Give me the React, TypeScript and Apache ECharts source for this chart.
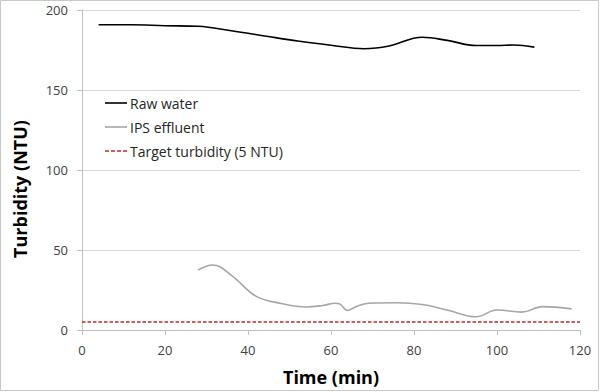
import React, { useEffect, useRef } from "react";
import * as echarts from "echarts";

const rawWaterTime = [4, 12, 20, 28, 36, 44, 52, 60, 68, 74, 82, 88, 95, 100, 104, 109];
const rawWaterValues = [190.8, 190.8, 190.2, 189.8, 187, 183.8, 180.6, 178, 175.8, 177.5, 183, 181, 177.8, 177.8, 178.1, 176.8];

const ipsTime = [28, 31.5, 36, 42, 48, 54, 58, 61, 62, 64, 66, 69, 76, 82, 88, 95, 100, 106, 111, 118];
const ipsValues = [37.5, 40.6, 34.2, 21, 16.6, 14.4, 15.3, 16.7, 16.4, 12.2, 14.6, 16.7, 17, 15.9, 12.5, 8.3, 12.5, 11.2, 14.6, 13.2];

const targetTime = [0, 120];
const targetValues = [5, 5];

const xTicks = { min: 0, max: 120, interval: 20 };
const yTicks = { min: 0, max: 200, interval: 50 };

const seriesNames = ["Raw water", "IPS effluent", "Target turbidity (5 NTU)"];
const xTitle = "Time (min)";
const yTitle = "Turbidity (NTU)";

const FONT = "'Open Sans', sans-serif";
const SOLID_ICON = "path://M0,0H22V1.6H0Z";
const DASH_ICON = "path://M0,0h4v1.6h-4z M6,0h4v1.6h-4z M12,0h4v1.6h-4z M18,0h4v1.6h-4z";

export default function App() {
  const ref = useRef<HTMLDivElement>(null);
  useEffect(() => {
    if (!ref.current) return;
    const chart = echarts.init(ref.current, null, { renderer: "svg" });
    const zip = (xs: number[], ys: number[]) => xs.map((x, i) => [x, ys[i]]);
    chart.setOption({
      animation: false,
      backgroundColor: "#ffffff",
      textStyle: { fontFamily: FONT },
      grid: { left: 82, right: 20, top: 10, bottom: 62, containLabel: false },
      xAxis: {
        type: "value",
        min: xTicks.min,
        max: xTicks.max,
        interval: xTicks.interval,
        axisLine: { show: true, lineStyle: { color: "#bfbfbf", width: 1 } },
        axisTick: { show: true, length: 5, lineStyle: { color: "#bfbfbf" } },
        axisLabel: { color: "#404040", fontSize: 13, margin: 13, fontFamily: FONT },
        splitLine: { show: false },
      },
      yAxis: {
        type: "value",
        min: yTicks.min,
        max: yTicks.max,
        interval: yTicks.interval,
        axisLine: { show: true, lineStyle: { color: "#bfbfbf", width: 1 } },
        axisTick: { show: true, length: 5, lineStyle: { color: "#bfbfbf" } },
        axisLabel: { color: "#404040", fontSize: 13, margin: 14, fontFamily: FONT },
        splitLine: { show: true, lineStyle: { color: "#d6d6d6", width: 1 } },
      },
      legend: {
        orient: "vertical",
        left: 105,
        top: 96,
        padding: 0,
        itemWidth: 22,
        itemHeight: 14,
        itemGap: 10,
        textStyle: { color: "#262626", fontSize: 14, fontFamily: FONT, lineHeight: 14, padding: [0, 0, 0, -2] },
        data: [
          { name: seriesNames[0], icon: SOLID_ICON },
          { name: seriesNames[1], icon: SOLID_ICON },
          { name: seriesNames[2], icon: DASH_ICON },
        ],
      },
      graphic: [
        {
          type: "rect",
          shape: { x: 0.5, y: 0.5, width: 598, height: 390 },
          style: { fill: "none", stroke: "#c8c8c8", lineWidth: 1 },
          silent: true,
        },
        {
          type: "text",
          x: 331,
          y: 377,
          style: {
            text: xTitle,
            fontFamily: FONT,
            fontSize: 18,
            fontWeight: "bold",
            fill: "#000",
            align: "center",
            verticalAlign: "middle",
          },
        },
        {
          type: "text",
          x: 20,
          y: 189,
          rotation: Math.PI / 2,
          style: {
            text: yTitle,
            fontFamily: FONT,
            fontSize: 18,
            fontWeight: "bold",
            fill: "#000",
            align: "center",
            verticalAlign: "middle",
          },
        },
      ],
      series: [
        {
          name: seriesNames[0],
          type: "line",
          data: zip(rawWaterTime, rawWaterValues),
          smooth: 0.4,
          showSymbol: false,
          symbol: "none",
          lineStyle: { color: "#000000", width: 1.6 },
          itemStyle: { color: "#000000" },
        },
        {
          name: seriesNames[1],
          type: "line",
          data: zip(ipsTime, ipsValues),
          smooth: 0.4,
          showSymbol: false,
          symbol: "none",
          lineStyle: { color: "#a6a6a6", width: 1.6 },
          itemStyle: { color: "#a6a6a6" },
        },
        {
          name: seriesNames[2],
          type: "line",
          data: zip(targetTime, targetValues),
          showSymbol: false,
          symbol: "none",
          lineStyle: { color: "#c0282d", width: 1.5, type: [3.5, 2] },
          itemStyle: { color: "#c0282d" },
        },
      ],
    });
    return () => chart.dispose();
  }, []);
  return (
    <div
      ref={ref}
      style={{ position: "fixed", left: 0, top: 0, width: 600, height: 392 }}
    />
  );
}
